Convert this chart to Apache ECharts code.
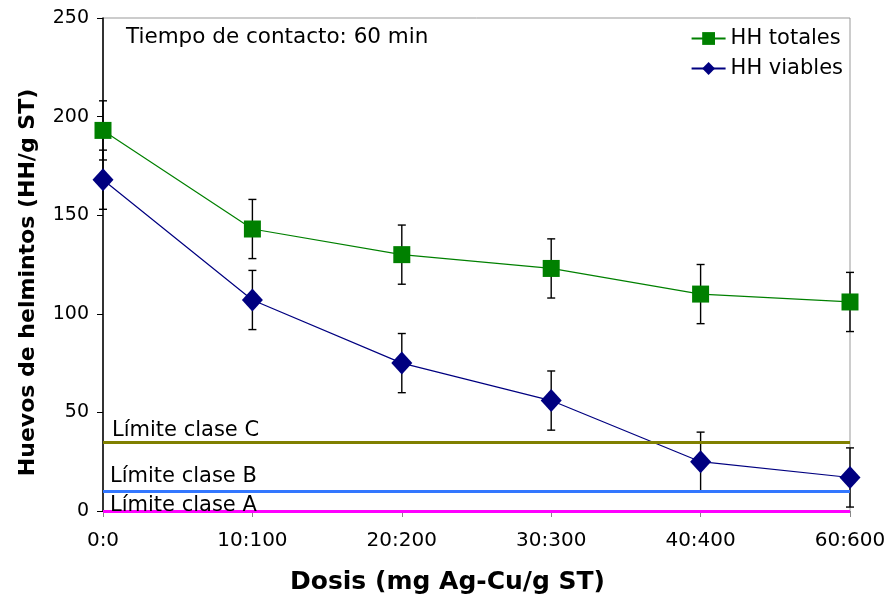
<!DOCTYPE html>
<html><head><meta charset="utf-8">
<script src="https://cdn.jsdelivr.net/npm/echarts@6/dist/echarts.min.js"></script>
<style>html,body{margin:0;padding:0;background:#fff}#c{width:886px;height:600px}</style>
</head><body><div id="c"></div>
<script>
var categories = ['0:0','10:100','20:200','30:300','40:400','60:600'];
var totales = [193, 143, 130, 123, 110, 106];
var totalesErr = [15, 15, 15, 15, 15, 15];
var viables = [168, 107, 75, 56, 25, 17];
var viablesErr = [15, 15, 15, 15, 15, 15];
var limitValues = [35, 10, 0];
var limitNames = ['Límite clase C', 'Límite clase B', 'Límite clase A'];
var limitColors = ['#808000', '#3377ff', '#ff00ff'];
var yTicks = [0, 50, 100, 150, 200, 250];

var F = 'Verdana, "DejaVu Sans", sans-serif';
function errData(v, e){ return v.map(function(x,i){ return [i, x - e[i], x + e[i]]; }); }
function errRender(params, api){
  var p1 = api.coord([api.value(0), api.value(1)]);
  var p2 = api.coord([api.value(0), api.value(2)]);
  var w = 4;
  var st = {stroke:'#000', lineWidth:1.4};
  return {type:'group', children:[
    {type:'line', shape:{x1:p1[0],y1:p1[1],x2:p2[0],y2:p2[1]}, style:st},
    {type:'line', shape:{x1:p1[0]-w,y1:p1[1],x2:p1[0]+w,y2:p1[1]}, style:st},
    {type:'line', shape:{x1:p2[0]-w,y1:p2[1],x2:p2[0]+w,y2:p2[1]}, style:st}
  ]};
}
var labelOffsets = [[9,1],[7,4],[7,-5]];
var markLineData = limitValues.map(function(v,i){
  return {yAxis:v, lineStyle:{color:limitColors[i], width:3, type:'solid'},
    label:{show:true, formatter:limitNames[i], position:'insideStartTop', color:'#000',
      fontFamily:F, fontSize:21, distance:[labelOffsets[i][0], labelOffsets[i][1]]}};
});
var chart = echarts.init(document.getElementById('c'));
chart.setOption({
  animation:false,
  grid:{left:103, right:36, top:18, bottom:89, show:true, borderColor:'#999', borderWidth:1, outerBoundsMode:'none', containLabel:false},
  legend:{orient:'vertical', right:38, top:23, itemGap:9, itemWidth:34, itemHeight:16,
    textStyle:{fontFamily:F, fontSize:21, color:'#000'},
    data:['HH totales','HH viables']},
  graphic:[{type:'text', left:126, top:26, style:{text:'Tiempo de contacto: 60 min', font:'21.5px '+F, fill:'#000'}}],
  xAxis:{type:'category', data:categories, boundaryGap:false,
    name:'Dosis (mg Ag-Cu/g ST)', nameLocation:'middle', nameGap:59,
    nameTextStyle:{fontFamily:F, fontSize:25, fontWeight:'bold', color:'#000', padding:[0,58,0,0]},
    axisLine:{lineStyle:{color:'#888'}},
    axisTick:{length:6, lineStyle:{color:'#888'}},
    axisLabel:{fontFamily:F, fontSize:20, color:'#000', margin:20}},
  yAxis:{type:'value', min:0, max:250, interval:50,
    name:'Huevos de helmintos (HH/g ST)', nameLocation:'middle', nameGap:64,
    nameTextStyle:{fontFamily:F, fontSize:22, fontWeight:'bold', color:'#000', padding:[0,36,0,0]},
    axisLine:{show:true, lineStyle:{color:'#000', width:1.5}},
    axisTick:{show:true, length:6, lineStyle:{color:'#000'}},
    splitLine:{show:false},
    axisLabel:{fontFamily:F, fontSize:19, color:'#000', margin:14,
      formatter:function(v){ return yTicks.indexOf(v)>=0 ? String(v) : ''; }}},
  series:[
    {type:'line', name:'limits', data:[], silent:true, markLine:{symbol:'none', silent:true, data:markLineData}, z:1},
    {type:'custom', name:'errT', data:errData(totales,totalesErr), renderItem:errRender, z:3, silent:true},
    {type:'custom', name:'errV', data:errData(viables,viablesErr), renderItem:errRender, z:3, silent:true},
    {type:'line', name:'HH totales', data:totales, symbol:'rect', symbolSize:17,
      itemStyle:{color:'#008000'}, lineStyle:{color:'#008000', width:1.2}, z:4},
    {type:'line', name:'HH viables', data:viables, symbol:'diamond', symbolSize:[21,23],
      itemStyle:{color:'#000080'}, lineStyle:{color:'#000080', width:1.2}, z:4}
  ]
});
</script></body></html>
